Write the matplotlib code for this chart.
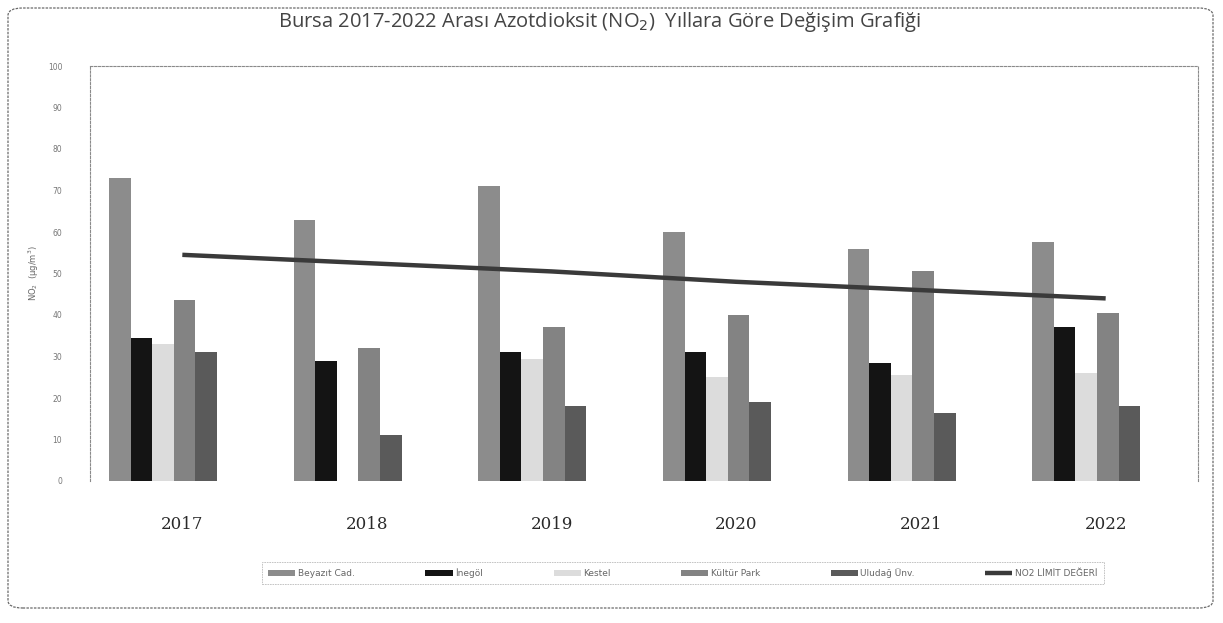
import numpy as np
import matplotlib
matplotlib.use("Agg")
import matplotlib.pyplot as plt
from matplotlib.patches import FancyBboxPatch

years = ["2017", "2018", "2019", "2020", "2021", "2022"]
stations = ["Beyazıt Cad.", "İnegöl", "Kestel", "Kültür Park", "Uludağ Ünv."]
beyazit = [73, 63, 71, 60, 56, 57.5]
inegol = [34.5, 29, 31, 31, 28.5, 37]
kestel = [33, 0, 29.5, 25, 25.5, 26]
kultur = [43.5, 32, 37, 40, 50.5, 40.5]
uludag = [31, 11, 18, 19, 16.5, 18]
limit = [54.5, 52.5, 50.5, 48, 46, 44]
series = [beyazit, inegol, kestel, kultur, uludag]

colors = ["#8c8c8c", "#141414", "#dcdcdc", "#838383", "#5a5a5a"]
LINE = "#3a3a3a"

fig = plt.figure(figsize=(12.23, 6.23), dpi=100, facecolor="white")

# outer rounded chart frame
frame = FancyBboxPatch((8 / 1223, 15 / 623), 1205 / 1223, 600 / 623,
                       boxstyle="round,pad=0,rounding_size=0.012",
                       transform=fig.transFigure, fill=False,
                       edgecolor="#6a6a6a", linewidth=0.9, linestyle=(0, (2, 1)))
fig.patches.append(frame)

ax = fig.add_axes([90 / 1223, 1 - 481 / 623, 1108 / 1223, 415 / 623])
x = np.arange(len(years))
w = 0.117
offset = -0.105
bars = []
for i, (name, vals, c) in enumerate(zip(stations, series, colors)):
    b = ax.bar(x + offset + (i - 2) * w, vals, width=w, color=c, label=name,
               edgecolor="none")
    bars.append(b)
ln, = ax.plot(x, limit, color=LINE, linewidth=3.2, label="NO2 LİMİT DEĞERİ",
              solid_capstyle="butt")

ax.set_xlim(-0.5, 5.5)
ax.set_ylim(0, 100)
ax.set_yticks(range(0, 101, 10))
ax.set_xticks(x)
ax.set_xticklabels(years, family="DejaVu Serif", fontsize=12, color="#2a2a2a")
ax.tick_params(axis="x", length=0, pad=25)
ax.tick_params(axis="y", length=0, labelsize=5.5, labelcolor="#777777", pad=20)
for side in ["top", "right", "left"]:
    ax.spines[side].set_color("#8a8a8a")
    ax.spines[side].set_linestyle((0, (2, 1.5)))
    ax.spines[side].set_linewidth(0.8)
ax.spines["bottom"].set_visible(False)
ax.set_ylabel("NO$_2$  (µg/m$^3$)", fontsize=6, color="#666666", labelpad=5)

fig.text(600 / 1223, 1 - 22 / 623,
         "Bursa 2017-2022 Arası Azotdioksit (NO$_2$)  Yıllara Göre Değişim Grafiği",
         ha="center", va="center", fontsize=14.5, color="#444444",
         family="Open Sans")

handles = bars + [ln]
labels = stations + ["NO2 LİMİT DEĞERİ"]
leg = fig.legend(handles, labels, loc="center", ncol=6,
                 bbox_to_anchor=(683 / 1223, 1 - 573 / 623),
                 fontsize=6.5, frameon=True, fancybox=False,
                 edgecolor="#aaaaaa", columnspacing=7.8, handlelength=3,
                 handleheight=0.6, handletextpad=0.3, borderpad=0.7)
for t in leg.get_texts():
    t.set_color("#666666")
leg.get_frame().set_linewidth(0.6)
leg.get_frame().set_linestyle((0, (2, 1)))

fig.savefig("out.png", dpi=100, facecolor="white")
